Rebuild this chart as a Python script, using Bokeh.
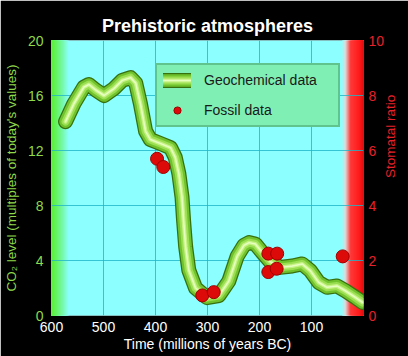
import math
import numpy as np
from bokeh.plotting import figure
from bokeh.models import Range1d, LinearAxis, FixedTicker, Legend, LegendItem
from bokeh.embed import file_html
from bokeh.resources import INLINE

# ---- data ----
geo_time = [573, 557, 538, 528, 515, 499, 480, 464, 448, 438, 429, 419, 410, 390, 371,
            362, 355, 349, 346, 342, 336, 323, 301, 278, 259, 243, 230, 220, 208, 195,
            179, 160, 137, 118, 102, 86, 70, 51, 35, 15, 2]
geo_co2 = [14.1, 15.4, 16.6, 16.8, 16.4, 16.0, 16.5, 17.1, 17.3, 16.9, 15.4, 13.4, 12.8, 12.5, 12.2,
           11.5, 10.3, 8.6, 6.9, 5.0, 3.3, 2.0, 1.3, 1.45, 2.5, 4.3, 5.1, 5.3, 5.2, 4.6,
           3.9, 3.5, 3.6, 3.75, 3.25, 2.4, 2.05, 2.15, 1.8, 1.3, 0.95]

fossil_time = [397, 385, 310, 288, 183, 166, 183, 167, 40]
fossil_ratio = [5.7, 5.4, 0.73, 0.85, 2.25, 2.25, 1.58, 1.7, 2.15]

x_ticks = [600, 500, 400, 300, 200, 100]
co2_ticks = [0, 4, 8, 12, 16, 20]
ratio_ticks = [0, 2, 4, 6, 8, 10]

FONT = "Liberation Sans"
GREEN_TXT = "#8fd94a"
RED_TXT = "#e8202a"
CYAN = "#8cffff"

p = figure(width=408, height=356, output_backend="svg", toolbar_location=None,
           x_range=Range1d(600, 0), y_range=Range1d(0, 20),
           min_border_left=51, min_border_right=45, min_border_top=40, min_border_bottom=41,
           background_fill_color=CYAN, border_fill_color="black", outline_line_color=None,
           title="Prehistoric atmospheres")
p.extra_y_ranges = {"ratio": Range1d(0, 10)}

p.title.text_color = "white"
p.title.text_font = FONT
p.title.text_font_size = "18px"
p.title.text_font_style = "bold"
p.title.align = "center"

# ---- side gradients (decoration) ----
def hex2rgb(h):
    h = h.lstrip("#")
    return np.array([int(h[i:i + 2], 16) for i in (0, 2, 4)], float)

def mix(c1, c2, t):
    c = hex2rgb(c1) * (1 - t) + hex2rgb(c2) * t
    return "#%02x%02x%02x" % tuple(int(round(v)) for v in c)

# left: green -> cyan (overlapping strips, widest first, so no seams)
n = 30
edges = np.linspace(600, 566, n + 1)
cols = [mix("#5cf03c", CYAN, (i / (n - 1)) ** 1.2) for i in range(n)]
p.quad(left=[600] * n, right=list(edges[1:][::-1]), bottom=0, top=20,
       fill_color=cols[::-1], line_color=None, level="image")

# right: cyan -> light grey -> red (overlapping strips, no seams)
stops = [(42, CYAN), (35, "#dcdcdc"), (25, "#ff3a3a"), (8, "#ff1a1a"), (0, "#dd1010")]
lefts, rcols = [], []
for (xa_, ca), (xb_, cb) in zip(stops[:-1], stops[1:]):
    m = 12
    e = np.linspace(xa_, xb_, m + 1)
    for i in range(m):
        lefts.append(e[i])
        rcols.append(mix(ca, cb, (i + 0.5) / m))
p.quad(left=lefts, right=[0] * len(lefts), bottom=0, top=20, fill_color=rcols,
       line_color=None, level="image")

# ---- grid ----
p.xgrid.ticker = FixedTicker(ticks=[500, 400, 300, 200, 100])
p.ygrid.ticker = FixedTicker(ticks=[4, 8, 12, 16])
for g in (p.xgrid, p.ygrid):
    g.grid_line_color = "#1fb5c8"
    g.grid_line_width = 1
    g.grid_line_alpha = 0.8

# ---- geochemical tube ----
tube = []
for w, c in [(15, "#36700f"), (12.5, "#70c22c"), (8, "#9ade52"), (4, "#c6f284"), (1.5, "#e6ffc0")]:
    r = p.line(geo_time, geo_co2, line_width=w, line_color=c,
               line_cap="round", line_join="round")
    tube.append(r)

# ---- fossil dots ----
fos = p.scatter(fossil_time, fossil_ratio, y_range_name="ratio", size=13,
                fill_color="#dd0a0a", line_color="#a00000", line_width=1)

# ---- axes ----
xa = p.xaxis[0]
xa.ticker = FixedTicker(ticks=x_ticks)
xa.axis_label = "Time (millions of years BC)"
xa.axis_label_text_color = "white"
xa.major_label_text_color = "white"

ya = p.yaxis[0]
ya.ticker = FixedTicker(ticks=co2_ticks)
ya.axis_label = "CO\u2082 level (multiples of today's values)"
ya.axis_label_text_color = GREEN_TXT
ya.major_label_text_color = GREEN_TXT

ra = LinearAxis(y_range_name="ratio", ticker=FixedTicker(ticks=ratio_ticks),
                axis_label="Stomatal ratio")
ra.axis_label_text_color = RED_TXT
ra.major_label_text_color = RED_TXT
ra.axis_label_orientation = math.pi / 2
p.add_layout(ra, "right")

for ax in (xa, ya, ra):
    ax.axis_line_color = None
    ax.major_tick_line_color = None
    ax.minor_tick_line_color = None
    ax.major_tick_in = 0
    ax.major_tick_out = 0
    ax.minor_tick_in = 0
    ax.minor_tick_out = 0
    ax.major_label_text_font = FONT
    ax.major_label_text_font_size = "14px"
    ax.axis_label_text_font = FONT
    ax.axis_label_text_font_size = "14px"
    ax.axis_label_text_font_style = "normal"
ya.axis_label_text_font_size = "13.5px"
ra.axis_label_text_font_size = "13.5px"
xa.major_label_standoff = 6
xa.axis_label_standoff = 1
ya.major_label_standoff = 8
ya.axis_label_standoff = 6
ra.major_label_standoff = 5
ra.axis_label_standoff = 3

# ---- legend ----
legend = Legend(items=[LegendItem(label="Geochemical data", renderers=tube),
                       LegendItem(label="Fossil data", renderers=[fos])],
                location=(104, 188), orientation="vertical",
                background_fill_color="#80efb4", background_fill_alpha=1,
                border_line_color="#3f9a6a", border_line_width=2,
                label_text_font=FONT, label_text_font_size="14px",
                label_text_color="#1a1a1a",
                glyph_width=28, glyph_height=18, label_standoff=13,
                label_width=128, padding=6, spacing=12, margin=0)
p.add_layout(legend, "center")

open("out.html", "w").write(file_html(p, INLINE))
